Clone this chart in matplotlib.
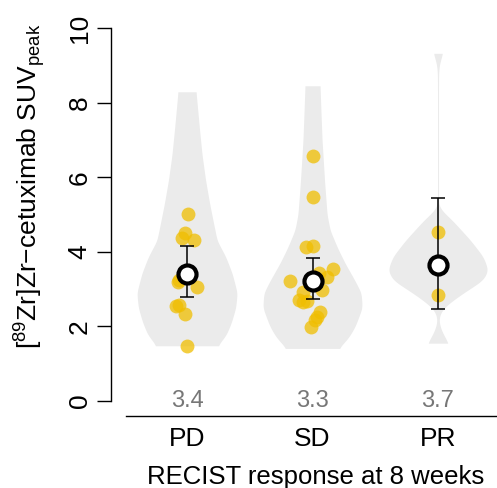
import numpy as np
import matplotlib
matplotlib.use('Agg')
import matplotlib.pyplot as plt

plt.rcParams['font.family'] = ['Liberation Sans', 'DejaVu Sans']
plt.rcParams['mathtext.fontset'] = 'custom'
plt.rcParams['mathtext.rm'] = 'Liberation Sans'
plt.rcParams['mathtext.it'] = 'Liberation Sans:italic'

# Gruppen
groups = ['PD', 'SD', 'PR']
positions = [1, 2, 3]

# Einzelwerte (SUVpeak) pro Gruppe und seitlicher Jitter
pd_vals = [5.01, 4.50, 4.36, 4.32, 3.20, 3.24, 3.05, 2.55, 2.57, 2.33, 1.48]
pd_jit = [0.006, -0.016, -0.037, 0.058, -0.074, -0.061, 0.082, -0.088, -0.061, -0.016, 0.0]
sd_vals = [6.57, 5.48, 4.12, 4.16, 3.54, 3.33, 3.42, 3.23, 2.98, 2.93, 2.71, 2.66, 2.69,
           2.39, 2.24, 2.17, 1.98]
sd_jit = [0.0, 0.0, -0.052, 0.0, 0.166, 0.118, 0.054, -0.179, 0.073, -0.073, -0.105,
          -0.073, -0.041, 0.060, 0.033, 0.020, -0.014]
pr_vals = [4.54, 2.84]
pr_jit = [0.0, 0.0]

# Mittelwert und Konfidenzintervall
means = [3.40, 3.23, 3.65]
ci_lo = [2.78, 2.73, 2.46]
ci_hi = [4.16, 3.83, 5.43]
mean_labels = ['3.4', '3.3', '3.7']

# Violin-Dichte (relativ) an y-Stuetzstellen
pd_dens_y = [1.48, 1.77, 2.09, 2.5, 2.9, 3.42, 3.87, 4.3, 4.76, 5.3, 5.92, 6.6, 7.27, 8.29]
pd_dens_w = [0.61, 0.78, 0.88, 0.97, 1.0, 0.9, 0.77, 0.6, 0.53, 0.45, 0.37, 0.3, 0.25, 0.18]
sd_dens_y = [1.41, 1.7, 2.0, 2.5, 2.9, 3.24, 3.69, 4.1, 4.58, 5.0, 5.9, 7.0, 7.7, 8.45]
sd_dens_w = [0.52, 0.72, 0.85, 0.99, 0.97, 0.84, 0.65, 0.5, 0.35, 0.29, 0.24, 0.19, 0.17, 0.15]
pr_dens_y = [1.55, 1.8, 2.0, 2.17, 2.35, 2.53, 2.7, 2.89, 3.24, 3.51, 3.87, 4.32, 4.6,
             4.85, 5.1, 5.25, 8.3, 8.8, 9.05, 9.32]
pr_dens_w = [0.21, 0.1, 0.04, 0.015, 0.04, 0.14, 0.3, 0.5, 0.9, 1.0, 0.9, 0.64, 0.45,
             0.28, 0.08, 0.01, 0.01, 0.012, 0.03, 0.094]

vals = [pd_vals, sd_vals, pr_vals]
jits = [pd_jit, sd_jit, pr_jit]
dens = [(pd_dens_y, pd_dens_w), (sd_dens_y, sd_dens_w), (pr_dens_y, pr_dens_w)]

fig = plt.figure(figsize=(4.97, 4.88), dpi=100)
ax = fig.add_axes([111 / 497, 72 / 488, 386 / 497, 396 / 488])

# Violins (linear interpoliert und leicht geglaettet)
half = 0.4
kern = np.exp(-0.5 * (np.arange(-12, 13) / 5.0) ** 2)
kern = kern / kern.sum()
for p, (dy, dw) in zip(positions, dens):
    yy = np.linspace(dy[0], dy[-1], 400)
    ww = np.interp(yy, dy, dw)
    ww = np.convolve(np.pad(ww, 12, mode='edge'), kern, mode='valid') * half
    ax.fill_betweenx(yy, p - ww, p + ww, color='#EBEBEB', lw=0, zorder=1)

# Punkte
for p, v, j in zip(positions, vals, jits):
    ax.scatter(np.array(j) + p, v, s=100, color='#F0BE00', alpha=0.75, lw=0, zorder=2)

# Fehlerbalken und Mittelwert
yerr = [np.array(means) - np.array(ci_lo), np.array(ci_hi) - np.array(means)]
ax.errorbar(positions, means, yerr=yerr, fmt='none', ecolor='black', elinewidth=1.1,
            capsize=4.7, capthick=1.1, zorder=3)
ax.plot(positions, means, 'o', ms=13, mfc='white', mec='black', mew=3, zorder=4)

for p, t in zip(positions, mean_labels):
    ax.text(p, 0, t, ha='center', va='center', fontsize=17, color='#777777')

ax.set_xlim(0.3944, 3.470)
ax.set_ylim(-0.402, 10.214)
ax.spines['top'].set_visible(False)
ax.spines['right'].set_visible(False)
ax.spines['left'].set_bounds(0, 10)
ax.spines['bottom'].set_bounds(0.514, 3.47)
ax.spines['left'].set_linewidth(1.0)
ax.spines['bottom'].set_linewidth(1.0)

ax.set_yticks([0, 2, 4, 6, 8, 10])
ax.set_yticklabels(['0', '2', '4', '6', '8', '10'], rotation=90, va='center')
ax.tick_params(axis='y', length=10, width=1.0, labelsize=19, pad=4)
ax.set_xticks(positions)
ax.set_xticklabels(groups)
ax.tick_params(axis='x', length=0, labelsize=19, pad=8)

ax.set_xlabel('RECIST response at 8 weeks', fontsize=18.5, labelpad=10)
ax.xaxis.label.set_x(0.531)
fig.text(30 / 497, 1 - 186 / 488, r'[$^{89}$Zr]Zr−cetuximab SUV$_{\mathrm{peak}}$',
         rotation=90, ha='center', va='center', fontsize=19)

plt.savefig('out.png', dpi=100)
